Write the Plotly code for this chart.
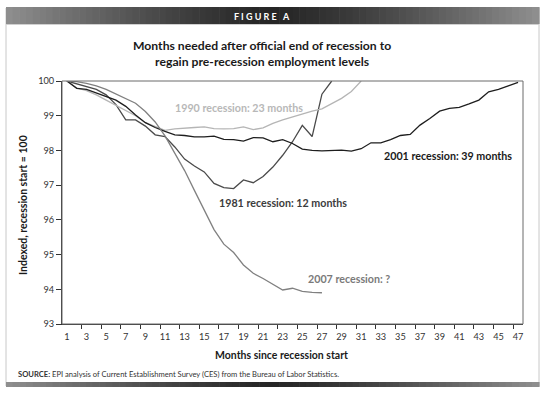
import plotly.graph_objects as go

# ---------------- data ----------------
months = list(range(1, 48))

rec_1981 = [100.0, 99.92, 99.84, 99.76, 99.6, 99.32, 98.88, 98.88, 98.7, 98.45,
            98.4, 98.1, 97.75, 97.55, 97.38, 97.05, 96.93, 96.9, 97.15, 97.07,
            97.25, 97.52, 97.86, 98.25, 98.72, 98.4, 99.62, 100.0]
rec_1990 = [100.0, 99.8, 99.72, 99.6, 99.45, 99.3, 99.15, 99.0, 98.8, 98.68,
            98.58, 98.62, 98.65, 98.66, 98.68, 98.63, 98.62, 98.63, 98.68, 98.6,
            98.65, 98.78, 98.88, 98.97, 99.04, 99.13, 99.2, 99.35, 99.5, 99.7, 100.0]
rec_2001 = [100.0, 99.79, 99.76, 99.66, 99.57, 99.45, 99.27, 99.02, 98.8, 98.66,
            98.55, 98.45, 98.43, 98.39, 98.39, 98.41, 98.32, 98.31, 98.27, 98.37,
            98.36, 98.25, 98.31, 98.2, 98.04, 98.0, 97.99, 97.99, 98.01, 97.98,
            98.05, 98.22, 98.22, 98.31, 98.43, 98.46, 98.73, 98.92, 99.13, 99.21,
            99.24, 99.34, 99.45, 99.69, 99.76, 99.86, 99.96]
rec_2007 = [100.0, 99.98, 99.93, 99.86, 99.76, 99.62, 99.5, 99.36, 99.12, 98.82,
            98.42, 97.92, 97.42, 96.85, 96.3, 95.72, 95.3, 95.06, 94.7, 94.46,
            94.31, 94.15, 93.98, 94.03, 93.94, 93.91, 93.9]

x_tick_labels = [str(m) for m in months if m % 2 == 1]
y_tick_values = [93, 94, 95, 96, 97, 98, 99, 100]

series_names = ["1981 recession", "1990 recession", "2001 recession", "2007 recession"]
series_labels = ["1981 recession: 12 months", "1990 recession: 23 months",
                 "2001 recession: 39 months", "2007 recession: ?"]

# ---------------- layout geometry ----------------
W, H = 545, 394
ML, MR, MT, MB = 62, 22, 81, 70
PW, PH = W - ML - MR, H - MT - MB


def px(x):
    return (x - ML) / PW


def py(y):
    return (H - MB - y) / PH


FONT = "Lato"
fig = go.Figure()

styles = {
    "1981 recession": dict(color="#4a4a4a", width=1.3),
    "1990 recession": dict(color="#b5b5b5", width=1.3),
    "2001 recession": dict(color="#1e1e1e", width=1.3),
    "2007 recession": dict(color="#808080", width=1.3),
}
all_series = [rec_1981, rec_1990, rec_2001, rec_2007]
for name, vals in zip(series_names, all_series):
    fig.add_trace(go.Scatter(x=months[:len(vals)], y=vals, mode="lines",
                             name=name, line=styles[name], hoverinfo="skip"))

# in-chart labels (data coordinates)
label_specs = [
    (series_labels[1], 18.5, 99.25, "#b8b8b8"),
    (series_labels[2], 39.9, 97.86, "#1a1a1a"),
    (series_labels[0], 23.0, 96.5, "#3c3c3c"),
    (series_labels[3], 29.75, 94.32, "#7a7a7a"),
]
annotations = []
for txt, xm, yv, col in label_specs:
    annotations.append(dict(x=xm, y=yv, xref="x", yref="y", text=f"<b>{txt}</b>",
                            xanchor="center", yanchor="middle",
                            showarrow=False, font=dict(family=FONT, size=10.7, color=col)))

# titles
annotations += [
    dict(x=px(262), y=py(53), xref="paper", yref="paper", xanchor="center", yanchor="middle",
         text="<b>Months needed after official end of recession to<br>regain pre-recession employment levels</b>",
         showarrow=False, font=dict(family=FONT, size=12.2, color="#1a1a1a"), align="center"),
    dict(x=px(262), y=py(16), xref="paper", yref="paper", xanchor="center", yanchor="middle",
         text="<b>F I G U R E   A</b>", showarrow=False,
         font=dict(family=FONT, size=9, color="white")),
    dict(x=px(23), y=py(205), xref="paper", yref="paper", textangle=-90,
         xanchor="center", yanchor="middle",
         text="<b>Indexed, recession start = 100</b>", showarrow=False,
         font=dict(family=FONT, size=10.5, color="#1a1a1a")),
    dict(x=px(281), y=py(355), xref="paper", yref="paper", xanchor="center", yanchor="middle",
         text="<b>Months since recession start</b>", showarrow=False,
         font=dict(family=FONT, size=10.5, color="#1a1a1a")),
    dict(x=px(16), y=py(374), xref="paper", yref="paper", xanchor="left", yanchor="middle",
         text="<b>SOURCE:</b> EPI analysis of Current Establishment Survey (CES) from the Bureau of Labor Statistics.",
         showarrow=False, font=dict(family=FONT, size=7.6, color="#333")),
]

shapes = []
# outer frame
shapes.append(dict(type="rect", xref="paper", yref="paper", x0=px(6), x1=px(539),
                   y0=py(386), y1=py(8), line=dict(color="#c8c8c8", width=1)))


def grad_color(t):
    d = abs(t - 0.5) * 2
    d = d ** 1.3
    lo, hi = 0x26, 0x90
    v = int(lo + (hi - lo) * d)
    return f"rgb({v},{v},{v})"


N = 80
x_start, x_end = 6, 539
for i in range(N):
    a = x_start + (x_end - x_start) * i / N
    b = x_start + (x_end - x_start) * (i + 1) / N + 0.6
    c = grad_color((i + 0.5) / N)
    shapes.append(dict(type="rect", xref="paper", yref="paper", x0=px(a), x1=px(b),
                       y0=py(24), y1=py(7), fillcolor=c, line=dict(width=0)))
    shapes.append(dict(type="rect", xref="paper", yref="paper", x0=px(a), x1=px(b),
                       y0=py(387), y1=py(382), fillcolor=c, line=dict(width=0)))
shapes.append(dict(type="line", xref="paper", yref="paper", x0=px(6), x1=px(539),
                   y0=py(24.5), y1=py(24.5), line=dict(color="#d0d0d0", width=1)))

# plot box (top/right border)
shapes.append(dict(type="rect", xref="x domain", yref="y domain", x0=0, x1=1, y0=0, y1=1,
                   line=dict(color="#6a6a6a", width=1)))

minor_ticks = [m + 0.5 for m in months if m % 2 == 0]

fig.update_layout(
    width=W, height=H,
    margin=dict(l=ML, r=MR, t=MT, b=MB),
    paper_bgcolor="white", plot_bgcolor="white",
    showlegend=False,
    annotations=annotations,
    shapes=shapes,
    xaxis=dict(range=[0.5, 47.5], tickmode="array",
               tickvals=[m for m in months if m % 2 == 1], ticktext=x_tick_labels,
               ticks="outside", ticklen=4, tickcolor="rgba(0,0,0,0)",
               showgrid=False, zeroline=False,
               showline=True, linecolor="#333", linewidth=1,
               tickfont=dict(family=FONT, size=9.2, color="#333"),
               minor=dict(tickmode="array", tickvals=minor_ticks, ticks="outside",
                          ticklen=4, tickcolor="#333", showgrid=False)),
    yaxis=dict(range=[93, 100], tickmode="array", tickvals=y_tick_values,
               ticks="outside", ticklen=5, tickcolor="#333",
               showgrid=False, zeroline=False, showline=True, linecolor="#333", linewidth=1,
               tickfont=dict(family=FONT, size=9.2, color="#333")),
)

fig.write_html("out.html", config={"displayModeBar": False},
               post_script="document.body.style.margin='0';")
